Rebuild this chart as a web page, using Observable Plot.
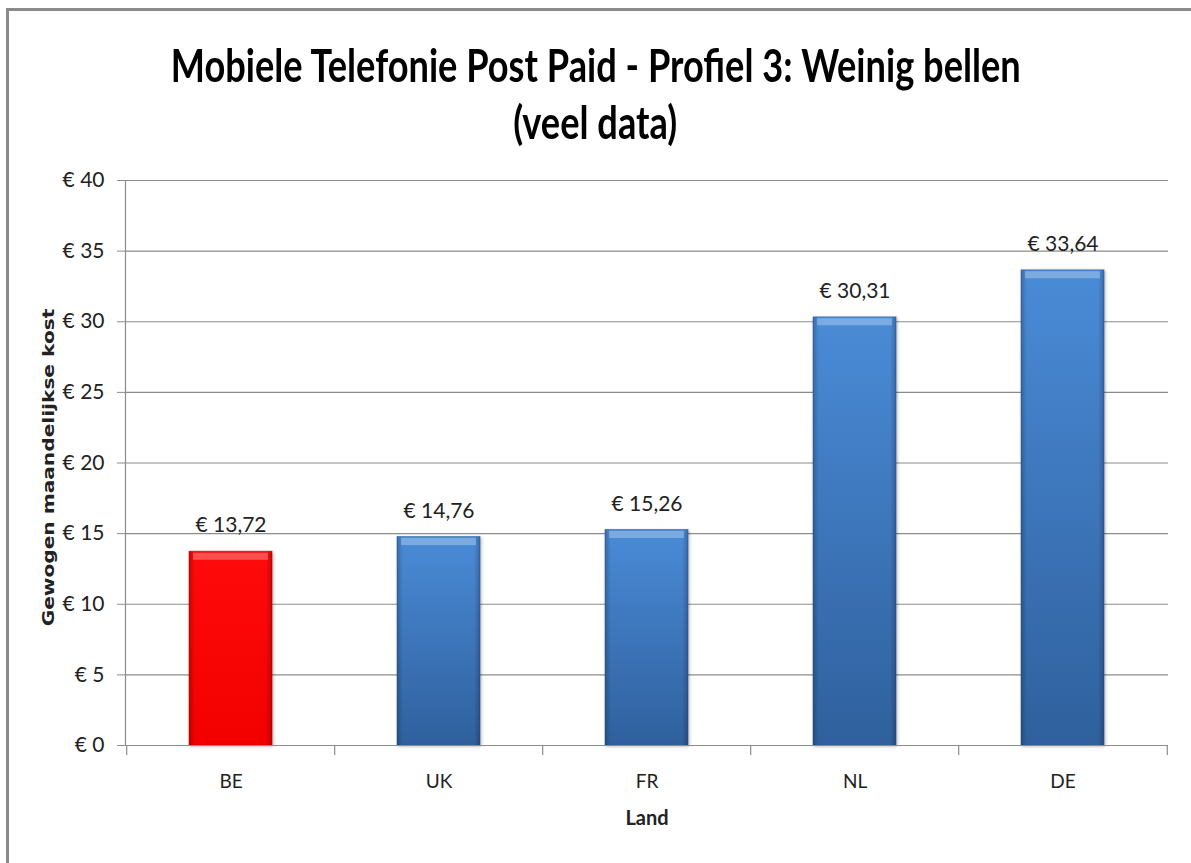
<!DOCTYPE html>
<html>
<head>
<meta charset="utf-8">
<script src="https://cdn.jsdelivr.net/npm/d3@7"></script>
<script src="https://cdn.jsdelivr.net/npm/@observablehq/plot@0.6"></script>
<style>
  html, body { margin: 0; padding: 0; background: #fff; }
  #wrap { position: relative; width: 1191px; height: 863px; overflow: hidden; background: #fff;
          font-family: Lato, "Open Sans", sans-serif; }
  #frame { position: absolute; left: 6px; top: 8px; width: 1183px; height: 870px; z-index: 5; pointer-events: none;
           border-top: 3px solid #8a8a8a; border-left: 3px solid #8a8a8a; border-right: 1px solid #e6e6e6; }
  #title { position: absolute; left: 0; top: 36px; width: 1191px; text-align: center;
           font-weight: bold; font-size: 46px; line-height: 57px; color: #000; }
  #title span { display: inline-block; transform-origin: 50% 50%; white-space: nowrap; }
  #chart { position: absolute; left: 0; top: 160px; }
  #chart text { fill: #222; }
</style>
</head>
<body>
<div id="wrap">
  <div id="frame"></div>
  <div id="title"><span>Mobiele Telefonie Post Paid - Profiel 3: Weinig bellen</span><br><span>(veel data)</span></div>
  <div id="chart"></div>
</div>
<script>
const countries = ["BE", "UK", "FR", "NL", "DE"];
const costs = [13.72, 14.76, 15.26, 30.31, 33.64];
const yTicks = [0, 5, 10, 15, 20, 25, 30, 35, 40];
const highlight = "BE";
const yLabel = "Gewogen maandelijkse kost";
const xLabel = "Land";

const data = countries.map((c, i) => ({country: c, cost: costs[i]}));
const fmtEuro = v => "€ " + v.toFixed(2).replace(".", ",");

const W = 1191, H = 703;
const mL = 125, mR = 23, mT = 20, mB = 118;
const step = (W - mL - mR) / countries.length;
const font = 'Lato, "Open Sans", sans-serif';

const plot = Plot.plot({
  width: W, height: H,
  marginLeft: mL, marginRight: mR, marginTop: mT, marginBottom: mB,
  style: {fontFamily: font, fontSize: "21px", color: "#222", background: "none", overflow: "visible"},
  x: {domain: countries, paddingInner: 0.6, paddingOuter: 0.3, label: null},
  y: {domain: [0, 40], label: null},
  marks: [
    Plot.ruleY(yTicks, {stroke: "#8c8c8c", strokeWidth: 1.2}),
    Plot.axisY({ticks: yTicks, tickSize: 8, tickPadding: 13, stroke: "#8c8c8c",
                tickFormat: d => "€ " + d, fontSize: 21, label: null}),
    Plot.frame({anchor: "left", stroke: "#8c8c8c", strokeWidth: 1.2}),
    Plot.ruleX(countries, {x: d => d, y1: 0, y2: 0, insetBottom: -10, dx: -step / 2, stroke: "#8c8c8c", strokeWidth: 1.2}),
    Plot.ruleX(countries.slice(-1), {x: d => d, y1: 0, y2: 0, insetBottom: -10, dx: step / 2, stroke: "#8c8c8c", strokeWidth: 1.2}),
    Plot.axisX({tickSize: 0, tickPadding: 29, fontSize: 19, label: null}),
    Plot.barY(data.filter(d => d.country !== highlight), {x: "country", y: "cost", fill: "url(#gBlue)", stroke: "#2c5a94", strokeWidth: 0.8, strokeOpacity: 0.6, className: "bar"}),
    Plot.barY(data.filter(d => d.country === highlight), {x: "country", y: "cost", fill: "url(#gRed)", stroke: "#c00000", strokeWidth: 0.8, strokeOpacity: 0.6, className: "bar"}),
    Plot.barY(data, {x: "country", y: "cost", fill: "url(#gEdge)"}),
    Plot.tickY(data, {x: "country", y: "cost", stroke: "#ffffff", strokeOpacity: 0.28, strokeWidth: 7, dy: 4.5, insetLeft: 4, insetRight: 4}),
    Plot.ruleY([0], {stroke: "#8c8c8c", strokeWidth: 1.2}),
    Plot.text(data, {x: "country", y: "cost", text: d => fmtEuro(d.cost), dy: -26, fontSize: 21, fill: "#222"}),
    Plot.text([yLabel], {frameAnchor: "left", textAnchor: "middle", dx: -76, dy: 4.5, rotate: -90, fontSize: 15, fontWeight: "bold",
                         fontFamily: '"DejaVu Sans", Verdana, sans-serif', fill: "#000", className: "ylab"}),
    Plot.text([xLabel], {frameAnchor: "bottom", dy: 79, fontSize: 20, fontWeight: "bold", fill: "#000"})
  ]
});

const defs = d3.select(plot).insert("defs", ":first-child");
const gb = defs.append("linearGradient").attr("id", "gBlue").attr("x1", 0).attr("y1", 0).attr("x2", 0).attr("y2", 1);
gb.append("stop").attr("offset", "0%").attr("stop-color", "#4a8bd7");
gb.append("stop").attr("offset", "100%").attr("stop-color", "#2f609d");
const gr = defs.append("linearGradient").attr("id", "gRed").attr("x1", 0).attr("y1", 0).attr("x2", 0).attr("y2", 1);
gr.append("stop").attr("offset", "0%").attr("stop-color", "#ff0a0a");
gr.append("stop").attr("offset", "100%").attr("stop-color", "#f20000");
const ge = defs.append("linearGradient").attr("id", "gEdge").attr("x1", 0).attr("y1", 0).attr("x2", 1).attr("y2", 0);
ge.append("stop").attr("offset", "0%").attr("stop-color", "#000").attr("stop-opacity", 0.22);
ge.append("stop").attr("offset", "7%").attr("stop-color", "#000").attr("stop-opacity", 0);
ge.append("stop").attr("offset", "93%").attr("stop-color", "#000").attr("stop-opacity", 0);
ge.append("stop").attr("offset", "100%").attr("stop-color", "#000").attr("stop-opacity", 0.22);
d3.select(plot).selectAll(".bar rect").style("filter", "drop-shadow(1px 1px 1.5px rgba(0,0,0,0.35))");

document.getElementById("chart").appendChild(plot);

// stretch the rotated y label along its direction to the reference length
const yt = plot.querySelector(".ylab text");
if (yt) {
  const len = yt.getComputedTextLength();
  if (len > 0) yt.setAttribute("transform", yt.getAttribute("transform") + ` scale(${318 / len},1)`);
}

// fit the title's first line to the reference width (condensed look)
const spans = document.querySelectorAll("#title span");
const w0 = spans[0].getBoundingClientRect().width;
const sx = 850 / w0;
spans.forEach(s => { s.style.transform = `scaleX(${sx})`; });
</script>
</body>
</html>
